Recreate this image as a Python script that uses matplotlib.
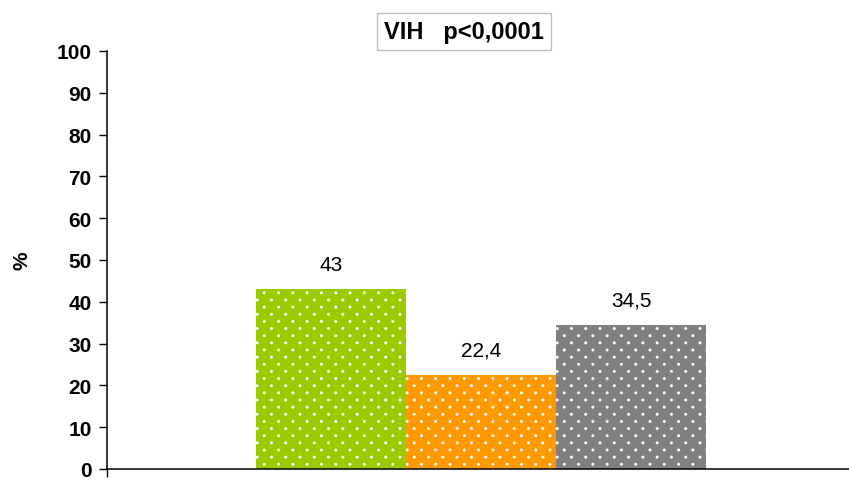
import matplotlib.pyplot as plt
import matplotlib.hatch as mhatch
from matplotlib.path import Path
import numpy as np

plt.rcParams['font.family'] = ['Liberation Sans', 'DejaVu Sans']

series = ['s1', 's2', 's3']
values = [43, 22.4, 34.5]
labels = ['43', '22,4', '34,5']
colors = ['#99CC00', '#FF9900', '#808080']
yticks = [0, 10, 20, 30, 40, 50, 60, 70, 80, 90, 100]


# excel-like dotted fill: small dots on a staggered grid (rows close, columns wide)
class ExcelDots(mhatch.HatchPatternBase):
    def __init__(self, hatch, density):
        n = hatch.count('.') * 7  # '..' -> 14 rows per hatch unit
        self.circle = Path.unit_circle()
        pts = []
        if n:
            for r in range(n + 1):
                start = 0 if r % 2 == 0 else 1
                for c in range(start, n + 1, 2):
                    pts.append((c / n, r / n))
        self.pts = np.array(pts)
        self.num_vertices = len(pts) * len(self.circle.vertices)

    def set_vertices_and_codes(self, vertices, codes):
        k = len(self.circle.vertices)
        for i, (x, y) in enumerate(self.pts):
            vertices[i * k:(i + 1) * k] = self.circle.vertices * 0.008 + (x, y)
            codes[i * k:(i + 1) * k] = self.circle.codes


mhatch._hatch_types = [h for h in mhatch._hatch_types
                       if h is not mhatch.SmallFilledCircles] + [ExcelDots]

fig = plt.figure(figsize=(8.49, 4.81), dpi=100)
ax = fig.add_axes([107 / 849, 11 / 481, 742 / 849, 418 / 481])

w = 150 / 742
offsets = np.arange(len(values)) - 1
for i, v in enumerate(values):
    ax.bar(offsets[i] * w, v, width=w, color=colors[i],
           edgecolor='white', linewidth=0, hatch='..', zorder=2)
    ax.annotate(labels[i], (offsets[i] * w, v), xytext=(0, 18),
                textcoords='offset points', ha='center', va='center',
                fontsize=15)

ax.set_xlim(-0.5047, 0.4953)
ax.set_ylim(0, 100)
ax.set_yticks(yticks)
ax.set_yticklabels([str(t) for t in yticks], fontsize=15, fontweight='bold')
ax.set_xticks([-0.5047])
ax.set_xticklabels([])
ax.tick_params(axis='y', direction='out', length=6, width=1, pad=5)
ax.tick_params(axis='x', direction='out', length=6, width=1)

for s in ['top', 'right']:
    ax.spines[s].set_visible(False)
for s in ['left', 'bottom']:
    ax.spines[s].set_linewidth(1.1)

ax.set_ylabel('%', fontsize=15, fontweight='bold', labelpad=18)

fig.text(464 / 849, 1 - 32.5 / 481, 'VIH   p<0,0001', ha='center', va='center',
         fontsize=17, fontweight='bold',
         bbox=dict(boxstyle='square,pad=0.3', facecolor='white',
                   edgecolor='#BFBFBF', linewidth=1))

fig.savefig('out.png', dpi=100)
